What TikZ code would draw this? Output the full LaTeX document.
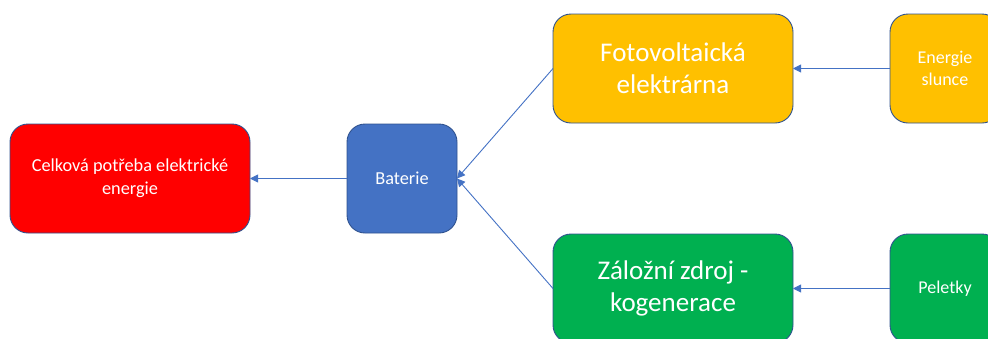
\documentclass[tikz,border=0pt]{standalone}
\usepackage{fontspec}
\setmainfont{Carlito}
\usetikzlibrary{arrows.meta}
\definecolor{boxred}{HTML}{FF0000}
\definecolor{boxblue}{HTML}{4472C4}
\definecolor{boxyellow}{HTML}{FFC000}
\definecolor{boxgreen}{HTML}{00B050}
\definecolor{boxedge}{HTML}{2F528F}
\definecolor{flow}{HTML}{4472C4}
\tikzset{
  block/.style={draw=boxedge, line width=0.9pt, rounded corners=18pt,
    text=white, align=center, inner sep=0pt, outer sep=0pt,
    minimum height=109pt},
  wide/.style={block, minimum width=240pt},
  narrow/.style={block, minimum width=110pt},
  smalltext/.style={font=\fontsize{18.3}{23}\selectfont},
  smallertext/.style={font=\fontsize{18}{22}\selectfont},
  bigtext/.style={font=\fontsize{27}{32}\selectfont},
  flowline/.style={draw=flow, line width=0.9pt,
    -{Triangle[length=8pt,width=8pt]}}
}
\begin{document}
\begin{tikzpicture}[x=1pt, y=-1pt]
  \useasboundingbox (0,0) rectangle (988,338);
  % demand and storage
  \node[wide, fill=boxred, smalltext] (demand) at (130,178.5)
    {Celková potřeba elektrické\\energie};
  \node[narrow, fill=boxblue, smalltext] (battery) at (402,178.5) {Baterie};
  % sources
  \node[wide, fill=boxyellow, bigtext] (pv) at (673,68.5)
    {Fotovoltaická\\elektrárna};
  \node[wide, fill=boxgreen, bigtext] (backup) at (673,288.5)
    {Záložní zdroj -\\kogenerace};
  % primary inputs
  \node[narrow, fill=boxyellow, smallertext] (sun) at (945,68.5)
    {Energie\\slunce};
  \node[narrow, fill=boxgreen, smallertext] (pellets) at (945,288.5) {Peletky};
  % energy flows
  \draw[flowline] (sun.west) -- (pv.east);
  \draw[flowline] (pellets.west) -- (backup.east);
  \draw[flowline] (pv.west) -- (battery.east);
  \draw[flowline] (backup.west) -- (battery.east);
  \draw[flowline] (battery.west) -- (demand.east);
\end{tikzpicture}
\end{document}
